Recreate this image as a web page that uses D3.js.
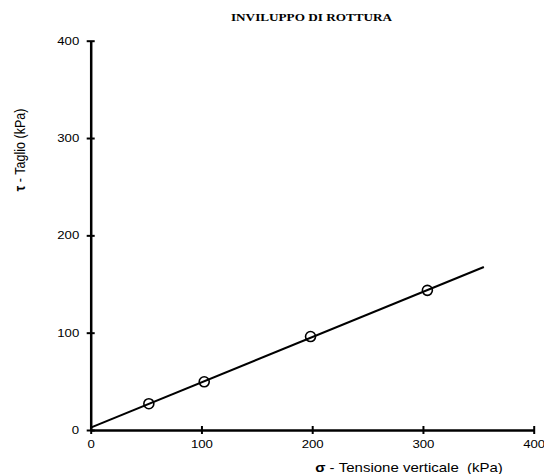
<!DOCTYPE html>
<html>
<head>
<meta charset="utf-8">
<script src="https://cdn.jsdelivr.net/npm/d3@7"></script>
<style>
  body { margin: 0; background: #fff; }
  svg text { fill: #000; white-space: pre; }
</style>
</head>
<body>
<div id="chart"></div>
<script>
// punti di prova (sigma, tau) in kPa
var sigmaValues = [52.5, 102.5, 198.5, 304];
var tauValues = [27, 49.5, 96, 143.5];
// retta di inviluppo: estremi
var lineSigma = [0, 355];
var lineTau = [2.5, 167.5];
var xTicks = [0, 100, 200, 300, 400];
var yTicks = [0, 100, 200, 300, 400];

var width = 544, height = 474;
var margin = {left: 90.7, right: 10.3, top: 40.7, bottom: 44};
var stretch = 1.2; // il grafico originale e' allargato in orizzontale

var svg = d3.select("#chart").append("svg")
  .attr("width", width)
  .attr("height", height);

var x = d3.scaleLinear().domain([0, 400]).range([margin.left, width - margin.right]);
var y = d3.scaleLinear().domain([0, 400]).range([height - margin.bottom, margin.top]);

var sans = "'Liberation Sans', Arial, sans-serif";

// titolo
svg.append("text")
  .attr("transform", "translate(311.5,21.3) scale(" + stretch + ",1)")
  .attr("text-anchor", "middle")
  .style("font-family", "'Liberation Serif', 'Times New Roman', serif")
  .style("font-weight", "bold")
  .style("font-size", "11px")
  .text("INVILUPPO DI ROTTURA");

// asse x
var gx = svg.append("g")
  .attr("transform", "translate(0," + y(0) + ")")
  .call(d3.axisBottom(x).tickValues(xTicks).tickSize(0).tickPadding(10));
gx.select(".domain").attr("stroke", "#000").attr("stroke-width", 2.5);
gx.selectAll(".tick line").remove();
gx.selectAll(".tick").append("line")
  .attr("y1", -4).attr("y2", 4)
  .attr("stroke", "#000").attr("stroke-width", 2);
gx.selectAll("text")
  .attr("transform", "scale(" + stretch + ",1)")
  .style("font-family", sans)
  .style("font-size", "11px");

// asse y
var gy = svg.append("g")
  .attr("transform", "translate(" + x(0) + ",0)")
  .call(d3.axisLeft(y).tickValues(yTicks).tickSize(0));
gy.select(".domain").attr("stroke", "#000").attr("stroke-width", 2.5);
gy.selectAll(".tick line").remove();
gy.selectAll(".tick").append("line")
  .attr("x1", -4).attr("x2", 4)
  .attr("stroke", "#000").attr("stroke-width", 2);
gy.selectAll("text")
  .attr("x", -11.5 / stretch)
  .attr("transform", "scale(" + stretch + ",1)")
  .style("font-family", sans)
  .style("font-size", "11px");

// etichette assi
var xl = svg.append("text")
  .attr("transform", "translate(409,472) scale(" + stretch + ",1)")
  .attr("text-anchor", "middle")
  .style("font-family", sans)
  .style("font-size", "12.5px");
xl.append("tspan").style("font-weight", "bold").text("σ");
xl.append("tspan").text(" - Tensione verticale  (kPa)");

var yl = svg.append("text")
  .attr("transform", "translate(25,150) scale(" + stretch + ",1) rotate(-90)")
  .attr("text-anchor", "middle")
  .style("font-family", sans)
  .style("font-size", "12.5px");
yl.append("tspan").style("font-weight", "bold").text("τ");
yl.append("tspan").text(" - Taglio (kPa)");

// retta
var linePts = lineSigma.map(function (s, i) { return [s, lineTau[i]]; });
svg.append("path")
  .datum(linePts)
  .attr("fill", "none")
  .attr("stroke", "#000")
  .attr("stroke-width", 2)
  .attr("d", d3.line().x(function (d) { return x(d[0]); }).y(function (d) { return y(d[1]); }));

// punti
var pts = sigmaValues.map(function (s, i) { return [s, tauValues[i]]; });
svg.selectAll("circle.pt")
  .data(pts)
  .enter().append("circle")
  .attr("class", "pt")
  .attr("cx", function (d) { return x(d[0]); })
  .attr("cy", function (d) { return y(d[1]); })
  .attr("r", 5)
  .attr("fill", "none")
  .attr("stroke", "#000")
  .attr("stroke-width", 1.6);
</script>
</body>
</html>
